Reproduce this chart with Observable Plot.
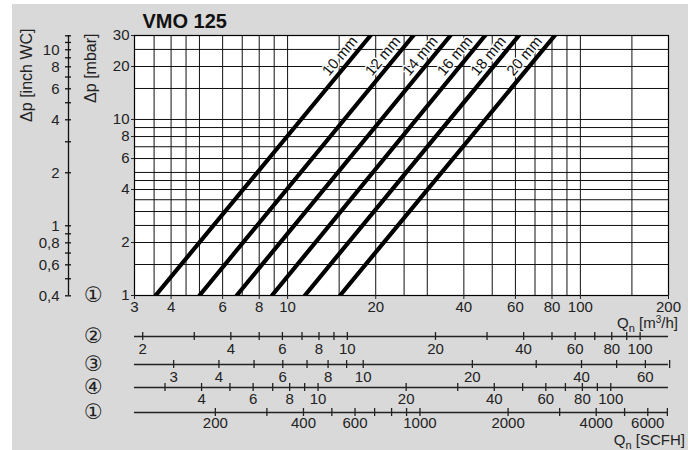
<!DOCTYPE html>
<html><head><meta charset="utf-8">
<script src="https://cdn.jsdelivr.net/npm/d3@7"></script>
<script src="https://cdn.jsdelivr.net/npm/@observablehq/plot@0.6"></script>
<style>
body{margin:0;background:#fff;}
#chart{position:relative;width:693px;height:450px;background:#fff;overflow:hidden;font-family:"Liberation Sans",Arial,Helvetica,sans-serif;color:#222;}
#bg{position:absolute;left:12px;top:4px;width:676px;height:446px;background:#d9d9d9;}
#chart svg{position:absolute;left:0;}
.qlabel{position:absolute;font-size:15px;line-height:15px;white-space:nowrap;color:#222;}
.qlabel sub{font-size:11px;vertical-align:-4px;line-height:0;}
.qlabel sup{font-size:10px;vertical-align:5px;line-height:0;}
</style></head><body>
<div id="chart"><div id="bg"></div></div>
<script>
// ---------- data ----------
const title = "VMO 125";
const orificeLabels = ["10 mm", "12 mm", "14 mm", "16 mm", "18 mm", "20 mm"];
const qAt1mbar  = [3.54, 5.0, 6.7, 8.84, 11.45, 15.1];   // m3/h at 1 mbar
const qAt30mbar = [19.2, 26.9, 36.0, 47.3, 61.7, 81.8];  // m3/h at 30 mbar
const dpRange = [1, 30];
const labelDp = 21;

const xDomain = [3, 200];
const xTicks = [3, 4, 6, 8, 10, 20, 40, 60, 80, 100, 200];
const xGrid = [3.5, 4, 4.5, 5, 6, 7, 8, 9, 10, 15, 20, 25, 30, 40, 50, 60, 70, 80, 90, 100, 150];
const yTicks = [1, 2, 4, 6, 8, 10, 20, 30];
const yGrid = [1.5, 2, 2.5, 3, 3.5, 4, 4.5, 5, 6, 7, 8, 9, 10, 15, 20, 25];

const mbarPerInchWC = 2.49;
const inchTicks = [0.4, 0.5, 0.6, 0.7, 0.8, 0.9, 1, 2, 3, 4, 5, 6, 7, 8, 9, 10, 11, 12];
const inchLabels = [0.4, 0.6, 0.8, 1, 2, 4, 6, 8, 10];

const scale2Domain = [1.875, 125];
const scale2Ticks = [2, 3, 4, 5, 6, 7, 8, 9, 10, 20, 30, 40, 50, 60, 70, 80, 90, 100];
const scale2Labels = [2, 4, 6, 8, 10, 20, 40, 60, 80, 100];
const scale3Domain = [2.34, 69.5];
const scale3Ticks = [3, 4, 5, 6, 7, 8, 9, 10, 20, 30, 40, 50, 60, 70];
const scale3Labels = [3, 4, 6, 8, 10, 20, 40, 60];
const scale4Domain = [2.36, 157.5];
const scale4Ticks = [3, 4, 5, 6, 7, 8, 9, 10, 20, 30, 40, 50, 60, 70, 80, 90, 100];
const scale4Labels = [4, 6, 8, 10, 20, 40, 60, 80, 100];
const scfhDomain = [105.9, 7062];
const scfhTicks = [200, 300, 400, 500, 600, 700, 800, 900, 1000, 2000, 3000, 4000, 5000, 6000, 7000];
const scfhLabels = [200, 400, 600, 1000, 2000, 4000, 6000];

// ---------- build ----------
const FONT = '"Liberation Sans", Arial, Helvetica, sans-serif';
const CIRC = '"DejaVu Sans", "Noto Sans CJK SC", sans-serif';
const chart = document.getElementById("chart");
function place(svg, top) { svg.style.top = top + "px"; chart.appendChild(svg); }
const str = d => String(d);

const lineData = orificeLabels.flatMap((s, i) => [
  {size: s, q: qAt1mbar[i], dp: dpRange[0]},
  {size: s, q: qAt30mbar[i], dp: dpRange[1]}
]);
const labelData = orificeLabels.map((s, i) => ({
  size: s,
  q: qAt1mbar[i] * Math.pow(qAt30mbar[i] / qAt1mbar[i], Math.log(labelDp / dpRange[0]) / Math.log(dpRange[1] / dpRange[0])),
  dp: labelDp
}));

const main = Plot.plot({
  width: 693, height: 330,
  marginLeft: 134, marginRight: 25, marginTop: 35, marginBottom: 35,
  style: {background: "transparent", fontFamily: FONT, fontSize: "15px", color: "#222", overflow: "visible"},
  x: {type: "log", domain: xDomain},
  y: {type: "log", domain: dpRange},
  marks: [
    Plot.frame({fill: "white", stroke: "none"}),
    Plot.ruleX(xGrid, {stroke: "#111", strokeWidth: 1}),
    Plot.ruleY(yGrid, {stroke: "#111", strokeWidth: 1}),
    Plot.line(lineData, {x: "q", y: "dp", z: "size", stroke: "#000", strokeWidth: 4.2, clip: true}),
    Plot.text(labelData, {x: "q", y: "dp", text: "size", rotate: -50.4, dx: -8, dy: -6.7,
      fontSize: 15, fill: "#111", stroke: "white", strokeWidth: 3, textAnchor: "middle", lineAnchor: "middle"}),
    Plot.frame({stroke: "#000", strokeWidth: 1.2}),
    Plot.axisX(xTicks, {anchor: "bottom", tickSize: 4, label: null, tickFormat: () => ""}),
    Plot.axisY(yTicks, {anchor: "left", tickSize: 3, label: null, tickFormat: () => ""}),
    Plot.text(xTicks, {x: d => d, text: str, frameAnchor: "bottom", dy: 6, lineAnchor: "top", textAnchor: "middle"}),
    Plot.text(yTicks, {y: d => d, text: str, frameAnchor: "left", dx: -5, lineAnchor: "middle", textAnchor: "end"}),
    Plot.text([title], {frameAnchor: "top-left", dx: 8, dy: -8, textAnchor: "start", lineAnchor: "bottom",
      fontWeight: "bold", fontSize: 20, fill: "#111"}),
    Plot.text(["Δp [mbar]"], {frameAnchor: "top-left", dx: -44, dy: -2, rotate: -90, textAnchor: "end",
      lineAnchor: "middle", fontSize: 16, fill: "#222"}),
    Plot.text(["Δp [inch WC]"], {frameAnchor: "top-left", dx: -108, dy: -7, rotate: -90, textAnchor: "end",
      lineAnchor: "middle", fontSize: 16, fill: "#222"}),
    Plot.text(["①"], {frameAnchor: "bottom-left", dx: -41, textAnchor: "middle", lineAnchor: "middle",
      fontSize: 21, fontFamily: CIRC, fill: "#222"})
  ]
});
place(main, 0);

const inch = Plot.plot({
  width: 80, height: 330,
  marginLeft: 65, marginRight: 9, marginTop: 35, marginBottom: 35,
  style: {background: "transparent", fontFamily: FONT, fontSize: "15px", color: "#222", overflow: "visible"},
  x: {domain: [0, 1], axis: null},
  y: {type: "log", domain: [dpRange[0] / mbarPerInchWC, dpRange[1] / mbarPerInchWC], axis: null},
  marks: [
    Plot.ruleX([0.5], {stroke: "#111", strokeWidth: 1.3}),
    Plot.tickY(inchTicks, {y: d => d, stroke: "#111", strokeWidth: 1.3}),
    Plot.text(inchLabels, {y: d => d, text: d => String(d).replace(".", ","), frameAnchor: "left", dx: -6,
      lineAnchor: "middle", textAnchor: "end"})
  ]
});
place(inch, 0);

function flowAxis(domain, ticks, labels, mark, top, pad) {
  const svg = Plot.plot({
    width: 693, height: 32,
    marginLeft: 134, marginRight: 25, marginTop: 6, marginBottom: 18,
    style: {background: "transparent", fontFamily: FONT, fontSize: "15px", color: "#222", overflow: "visible"},
    x: {type: "log", domain, axis: null},
    y: {domain: [-1, 1], axis: null},
    marks: [
      Plot.ruleY([0], {stroke: "#222", strokeWidth: 1.3}),
      Plot.tickX(ticks, {x: d => d, stroke: "#222", strokeWidth: 1.3}),
      Plot.text(labels, {x: d => d, text: str, frameAnchor: "bottom", dy: pad, lineAnchor: "top", textAnchor: "middle"}),
      Plot.text([mark], {frameAnchor: "left", dx: -41, textAnchor: "middle", lineAnchor: "middle",
        fontSize: 21, fontFamily: CIRC, fill: "#222"})
    ]
  });
  place(svg, top);
}
flowAxis(scale2Domain, scale2Ticks, scale2Labels, "②", 326, 3);
flowAxis(scale3Domain, scale3Ticks, scale3Labels, "③", 354, 3);
flowAxis(scale4Domain, scale4Ticks, scale4Labels, "④", 377, 2);
flowAxis(scfhDomain, scfhTicks, scfhLabels, "①", 402, 1);

const q1 = document.createElement("div");
q1.className = "qlabel";
q1.style.right = "15px"; q1.style.top = "315px";
q1.innerHTML = "Q<sub>n</sub> [m<sup>3</sup>/h]";
chart.appendChild(q1);
const q2 = document.createElement("div");
q2.className = "qlabel";
q2.style.right = "8px"; q2.style.top = "432px";
q2.innerHTML = "Q<sub>n</sub> [SCFH]";
chart.appendChild(q2);
</script>
</body></html>
